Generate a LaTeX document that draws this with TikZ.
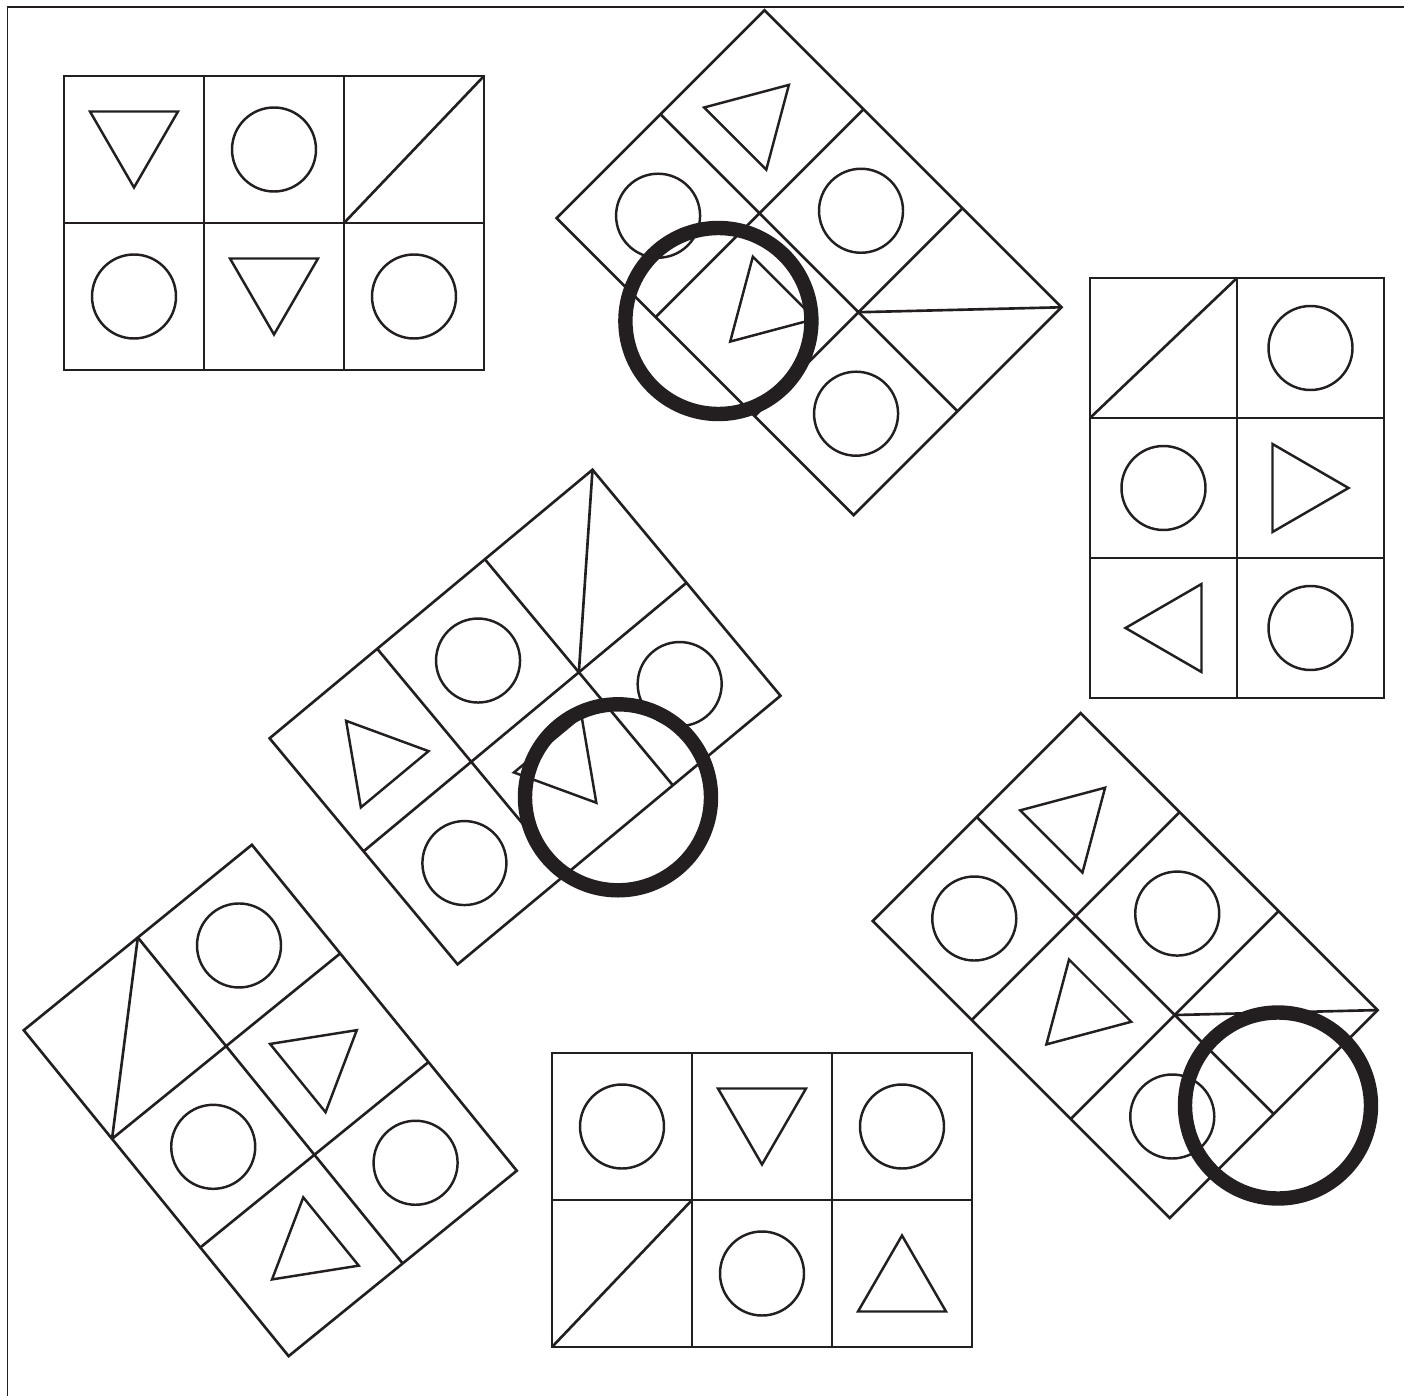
\documentclass[tikz,border=0pt]{standalone}
\definecolor{ink}{RGB}{35,31,32}
\begin{document}
\begin{tikzpicture}[x=0.1mm, y=-0.1mm, line join=miter,
    frameline/.style={ink, line width=0.5pt},
    gridline/.style={ink, line width=0.75pt},
    shapeline/.style={ink, line width=0.7pt},
    bigring/.style={ink, line width=4.1pt}]

  \useasboundingbox (0,0) rectangle (1404,1396);

  % Khung viền
  \draw[frameline] (7.5,1396) -- (7.5,7) -- (1404,7);

  % Hình 1 (trên trái)
  \begin{scope}[shift={(64,76)}]
    \draw[gridline] (0,0) rectangle (420,294);
    \draw[gridline] (140,0) -- (140,294) (280,0) -- (280,294) (0,147) -- (420,147);
    \draw[gridline] (280,147) -- (420,0);
    \draw[shapeline] (26,35.5) -- (114,35.5) -- (70,111.5) -- cycle;
    \draw[shapeline] (166,182.5) -- (254,182.5) -- (210,258.5) -- cycle;
    \draw[shapeline] (210,73.5) circle (42) (70,220.5) circle (42) (350,220.5) circle (42);
  \end{scope}

  % Hình 2 (trên giữa, xoay)
  \begin{scope}[shift={(764.5,10.3)}, rotate=-45]
    \draw[gridline] (0,0) rectangle (420,294);
    \draw[gridline] (140,0) -- (140,294) (280,0) -- (280,294) (0,147) -- (420,147);
    \draw[gridline] (280,147) -- (420,0);
    \draw[shapeline] (26,111.5) -- (114,111.5) -- (70,35.5) -- cycle;
    \draw[shapeline] (166,182.5) -- (254,182.5) -- (210,258.5) -- cycle;
    \draw[shapeline] (210,73.5) circle (42) (70,220.5) circle (42) (350,220.5) circle (42);
  \end{scope}

  % Hình 3 (bên phải, dựng đứng)
  \begin{scope}[shift={(1384,278)}, rotate=-90]
    \draw[gridline] (0,0) rectangle (420,294);
    \draw[gridline] (140,0) -- (140,294) (280,0) -- (280,294) (0,147) -- (420,147);
    \draw[gridline] (0,147) -- (140,294);
    \draw[shapeline] (166,111.5) -- (254,111.5) -- (210,35.5) -- cycle;
    \draw[shapeline] (306,182.5) -- (394,182.5) -- (350,258.5) -- cycle;
    \draw[shapeline] (70,73.5) circle (42) (350,73.5) circle (42) (210,220.5) circle (42);
  \end{scope}

  % Hình 4 (giữa)
  \begin{scope}[shift={(269.6,738.3)}, rotate=39.75]
    \draw[gridline] (0,0) rectangle (420,294);
    \draw[gridline] (140,0) -- (140,294) (280,0) -- (280,294) (0,147) -- (420,147);
    \draw[gridline] (280,147) -- (420,0);
    \draw[shapeline] (26,111.5) -- (114,111.5) -- (70,35.5) -- cycle;
    \draw[shapeline] (166,182.5) -- (254,182.5) -- (210,258.5) -- cycle;
    \draw[shapeline] (210,73.5) circle (42) (70,220.5) circle (42) (350,220.5) circle (42);
  \end{scope}

  % Hình 5 (phải dưới)
  \begin{scope}[shift={(1080.7,713.1)}, rotate=-45]
    \draw[gridline] (0,0) rectangle (420,294);
    \draw[gridline] (140,0) -- (140,294) (280,0) -- (280,294) (0,147) -- (420,147);
    \draw[gridline] (280,147) -- (420,0);
    \draw[shapeline] (26,111.5) -- (114,111.5) -- (70,35.5) -- cycle;
    \draw[shapeline] (166,182.5) -- (254,182.5) -- (210,258.5) -- cycle;
    \draw[shapeline] (210,73.5) circle (42) (70,220.5) circle (42) (350,220.5) circle (42);
  \end{scope}

  % Hình 6 (trái dưới)
  \begin{scope}[shift={(251.9,844.8)}, rotate=-50.9]
    \draw[gridline] (0,0) rectangle (420,294);
    \draw[gridline] (140,0) -- (140,294) (280,0) -- (280,294) (0,147) -- (420,147);
    \draw[gridline] (0,147) -- (140,294);
    \draw[shapeline] (166,111.5) -- (254,111.5) -- (210,35.5) -- cycle;
    \draw[shapeline] (306,182.5) -- (394,182.5) -- (350,258.5) -- cycle;
    \draw[shapeline] (70,73.5) circle (42) (350,73.5) circle (42) (210,220.5) circle (42);
  \end{scope}

  % Hình 7 (dưới giữa)
  \begin{scope}[shift={(552,1053)}]
    \draw[gridline] (0,0) rectangle (420,294);
    \draw[gridline] (140,0) -- (140,294) (280,0) -- (280,294) (0,147) -- (420,147);
    \draw[gridline] (0,294) -- (140,147);
    \draw[shapeline] (166,35.5) -- (254,35.5) -- (210,111.5) -- cycle;
    \draw[shapeline] (306,258.5) -- (394,258.5) -- (350,182.5) -- cycle;
    \draw[shapeline] (70,73.5) circle (42) (350,73.5) circle (42) (210,220.5) circle (42);
  \end{scope}

  % Vòng tròn đậm
  \draw[bigring] (718.4,321) circle (93);
  \draw[bigring] (618,797.3) circle (93);
  \draw[bigring] (1278,1105.5) circle (93);

\end{tikzpicture}
\end{document}
